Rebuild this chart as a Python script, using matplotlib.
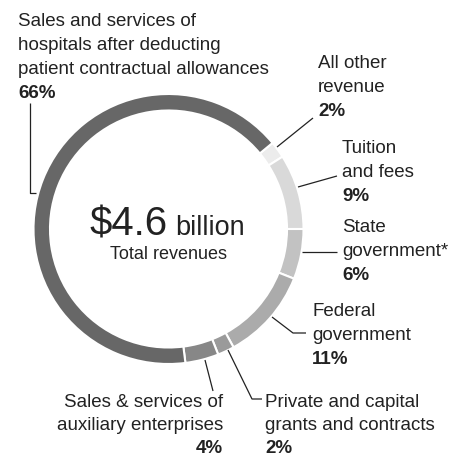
import matplotlib.pyplot as plt

W, H = 461, 457

# revenue shares, clockwise from the small "All other" slice
labels = ["All other revenue", "Tuition and fees", "State government*", "Federal government",
          "Private and capital grants and contracts", "Sales & services of auxiliary enterprises",
          "Sales and services of hospitals after deducting patient contractual allowances"]
shares = [2, 9, 6, 11, 2, 4, 66]
colors = ["#ececec", "#d9d9d9", "#c2c2c2", "#ababab", "#9a9a9a", "#878787", "#676767"]

total = "$4.6"
total_unit = "billion"
total_caption = "Total revenues"

plt.rcParams['font.family'] = ['Liberation Sans', 'DejaVu Sans']
txt = "#222222"

fig = plt.figure(figsize=(W / 100, H / 100), dpi=100)
ax = fig.add_axes([0, 0, 1, 1])

cx, cy = 168.5, H - 229
ax.pie(shares, colors=colors, center=(cx, cy), radius=135, startangle=39.6, counterclock=False,
       wedgeprops=dict(width=16.5, edgecolor="white", linewidth=1.5))

ax.set_xlim(0, W)
ax.set_ylim(0, H)
ax.set_aspect("equal")
ax.axis("off")

# centre text
ax.text(168, H - 235, total, fontsize=29, ha="right", va="baseline", color=txt)
ax.text(175, H - 235, total_unit, fontsize=19.5, ha="left", va="baseline", color=txt)
ax.text(168, H - 259, total_caption, fontsize=13, ha="center", va="baseline", color=txt)


def label(x, y, lines, pct, ha="left", step=24):
    for i, s in enumerate(lines):
        ax.text(x, H - (y + step * i), s, fontsize=13.5, ha=ha, va="baseline", color=txt)
    ax.text(x, H - (y + step * len(lines)), pct, fontsize=13.5, fontweight="bold",
            ha=ha, va="baseline", color=txt)


def leader(xs, ys):
    ax.plot(xs, [H - y for y in ys], color=txt, lw=0.9, solid_capstyle="butt")


label(18, 26, ["Sales and services of", "hospitals after deducting",
               "patient contractual allowances"], "66%")
leader([30, 30, 36], [103, 193, 193])

label(318, 68, ["All other", "revenue"], "2%")
leader([277, 313], [147, 118])

label(342, 153, ["Tuition", "and fees"], "9%")
leader([298, 337], [187, 176])

label(342, 232, ["State", "government*"], "6%")
leader([302, 337], [252, 252])

label(312, 316, ["Federal", "government"], "11%")
leader([272, 293, 306], [317, 333, 333])

label(223, 407, ["Sales & services of", "auxiliary enterprises"], "4%", ha="right", step=23)
leader([205, 213], [360, 391])

label(265, 407, ["Private and capital", "grants and contracts"], "2%", step=23)
leader([228, 252, 262], [350, 399, 399])

fig.savefig("out.png", dpi=100)
